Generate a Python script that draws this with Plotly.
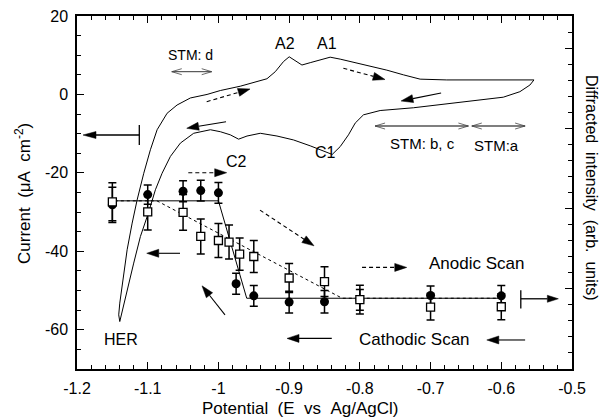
import math
import plotly.graph_objects as go

# ---------------- data ----------------
# Cyclic voltammogram (E in V vs Ag/AgCl, current in uA cm^-2), anodic then cathodic branch
cv_E = [-1.1395, -1.1410, -1.1395, -1.1347, -1.1291, -1.1220, -1.1150, -1.1056, -1.0962, -1.0867,
        -1.0726, -1.0585, -1.0397, -1.0161, -0.9973, -0.9691, -0.9314, -0.9196, -0.9079, -0.8999,
        -0.8914, -0.8819, -0.8702, -0.8561, -0.8420, -0.8278, -0.7996, -0.7619, -0.7384, -0.7148,
        -0.6771, -0.6301, -0.5782, -0.5538,
        -0.5595, -0.5737, -0.5972, -0.6301, -0.6771, -0.7243, -0.7713, -0.7949, -0.8066, -0.8161,
        -0.8278, -0.8391, -0.8702, -0.8938, -0.9172, -0.9408, -0.9596, -0.9715, -0.9832, -0.9973,
        -1.0114, -1.0350, -1.0538, -1.0679, -1.0797, -1.0891, -1.0992, -1.1103, -1.1198, -1.1291,
        -1.1362, -1.1395]
cv_I = [-57.9, -56.2, -53.2, -46.4, -39.6, -32.8, -26.9, -20.1, -14.1, -9.0,
        -4.8, -2.7, -0.9, 0.0, 1.0, 2.1, 4.0, 5.8, 8.4, 9.6,
        8.6, 7.5, 8.1, 8.8, 9.5, 9.0, 7.8, 6.2, 5.0, 3.9,
        3.7, 3.7, 3.7, 3.7,
        2.4, 0.7, -0.7, -1.4, -2.4, -3.4, -4.1, -5.2, -7.3, -10.3,
        -13.3, -15.3, -13.1, -11.6, -10.6, -9.9, -10.6, -11.4, -10.3, -9.5,
        -9.0, -9.9, -12.4, -15.8, -20.1, -24.3, -30.3, -36.2, -43.0, -49.8,
        -54.9, -57.9]

# Diffracted intensity (arb. units): filled circles
circ_E = [-1.15, -1.1, -1.05, -1.025, -1.0, -0.975, -0.95, -0.9, -0.85, -0.8, -0.7, -0.6]
circ_I = [10.23, 10.87, 11.08, 11.12, 10.98, 5.31, 4.56, 4.17, 4.19, 4.31, 4.58, 4.56]
circ_err = [1.1, 0.6, 0.65, 0.65, 0.65, 0.65, 0.65, 0.68, 0.7, 0.65, 0.6, 0.65]

# Diffracted intensity (arb. units): open squares
sq_E = [-1.15, -1.1, -1.05, -1.025, -1.0, -0.985, -0.97, -0.95, -0.9, -0.85, -0.8, -0.7, -0.6]
sq_I = [10.42, 9.79, 9.76, 8.26, 8.01, 7.91, 7.16, 7.01, 5.67, 5.45, 4.32, 3.86, 3.88]
sq_err = [1.18, 1.12, 1.12, 1.09, 1.06, 1.06, 1.0, 1.0, 0.9, 0.93, 0.9, 0.81, 0.81]

# guide lines through the intensity data
fit_solid_E = [-1.155, -1.0, -0.96, -0.6]
fit_solid_I = [10.48, 10.48, 4.41, 4.41]
fit_dash_E = [-1.155, -1.087, -0.825, -0.6]
fit_dash_I = [10.48, 10.48, 4.41, 4.41]

x_tickvals = [-1.2, -1.1, -1.0, -0.9, -0.8, -0.7, -0.6, -0.5]
x_ticktext = ["-1.2", "-1.1", "-1", "-0.9", "-0.8", "-0.7", "-0.6", "-0.5"]
y_tickvals = [20, 0, -20, -40, -60]
y_ticktext = ["20", "0", "-20", "-40", "-60"]

# ---------------- layout constants ----------------
W, H = 605, 420
ML, MR, MT, MB = 77, 33, 16, 51
XR = [-1.2, -0.5]
YR = [-70, 20]
Y2R = [0, 22]
PW, PH = W - ML - MR, H - MT - MB
PX_X = PW / (XR[1] - XR[0])
PX_Y = PH / (YR[1] - YR[0])

FONT = "Liberation Sans, Arial, Helvetica, sans-serif"

fig = go.Figure()

fig.add_trace(go.Scatter(x=cv_E, y=cv_I, mode="lines", line=dict(color="black", width=1),
                         yaxis="y", hoverinfo="skip"))
fig.add_trace(go.Scatter(x=fit_solid_E, y=fit_solid_I, mode="lines",
                         line=dict(color="black", width=1), yaxis="y2"))
fig.add_trace(go.Scatter(x=fit_dash_E, y=fit_dash_I, mode="lines",
                         line=dict(color="black", width=1, dash="3px,3px"), yaxis="y2"))
fig.add_trace(go.Scatter(x=circ_E, y=circ_I, mode="markers", yaxis="y2",
                         marker=dict(symbol="circle", size=9, color="black"),
                         error_y=dict(type="data", array=circ_err, color="black", thickness=1.5, width=4)))
fig.add_trace(go.Scatter(x=sq_E, y=sq_I, mode="markers", yaxis="y2",
                         marker=dict(symbol="square", size=8, color="white",
                                     line=dict(color="black", width=1.3)),
                         error_y=dict(type="data", array=sq_err, color="black", thickness=1.5, width=4)))

shapes = []


def arrow(x0, y0, x1, y1, dashed=False, head_len=12, head_half=4, width=1.1):
    dxp = (x1 - x0) * PX_X
    dyp = (y1 - y0) * PX_Y
    L = math.hypot(dxp, dyp)
    ux, uy = dxp / L, dyp / L
    bx = x1 - ux * head_len / PX_X
    by = y1 - uy * head_len / PX_Y
    nx, ny = -uy, ux
    lx, ly = bx + nx * head_half / PX_X, by + ny * head_half / PX_Y
    rx, ry = bx - nx * head_half / PX_X, by - ny * head_half / PX_Y
    shapes.append(dict(type="line", xref="x", yref="y", x0=x0, y0=y0, x1=bx, y1=by,
                       line=dict(color="black", width=width, dash="4px,3px" if dashed else "solid")))
    shapes.append(dict(type="path", xref="x", yref="y",
                       path=f"M{x1},{y1} L{lx},{ly} L{rx},{ry} Z",
                       fillcolor="black", line=dict(color="black", width=0.5)))


def double_arrow(xa, xb, y, arm=10, half=3, width=1.2):
    shapes.append(dict(type="line", xref="x", yref="y", x0=xa, y0=y, x1=xb, y1=y,
                       line=dict(color="black", width=width)))
    dx, dy = arm / PX_X, half / PX_Y
    shapes.append(dict(type="path", xref="x", yref="y",
                       path=f"M{xa+dx},{y+dy} L{xa},{y} L{xa+dx},{y-dy}",
                       line=dict(color="#444", width=0.8)))
    shapes.append(dict(type="path", xref="x", yref="y",
                       path=f"M{xb-dx},{y+dy} L{xb},{y} L{xb-dx},{y-dy}",
                       line=dict(color="#444", width=0.8)))


# scan-direction arrows on the voltammogram
arrow(-1.0166, -1.85, -0.9553, 1.39, dashed=True)
arrow(-0.9893, -6.95, -1.0448, -8.63)
arrow(-0.8233, 6.67, -0.7644, 3.81, dashed=True)
arrow(-0.6851, 0.37, -0.7417, -1.67)
arrow(-1.0426, -19.95, -0.9883, -19.95, dashed=True)
arrow(-1.0543, -40.5, -1.1014, -40.5)
arrow(-0.9907, -56.2, -1.0232, -48.8)
arrow(-0.9412, -29.5, -0.8648, -38.6, dashed=True)
arrow(-0.7969, -44.1, -0.7337, -44.1, dashed=True)
arrow(-0.8397, -62.2, -0.9030, -62.2)
arrow(-0.5663, -62.6, -0.6205, -62.6)

# axis-indicator arrows
arrow(-1.1119, -10.34, -1.1915, -10.34, head_len=13, head_half=3.5, width=1.3)
shapes.append(dict(type="line", xref="x", yref="y", x0=-1.1119, y0=-7.8, x1=-1.1119, y1=-12.9,
                   line=dict(color="black", width=1.3)))
arrow(-0.5724, -52.1, -0.5193, -52.1, head_len=11, head_half=3.5, width=1.3)
shapes.append(dict(type="line", xref="x", yref="y", x0=-0.5724, y0=-49.9, x1=-0.5724, y1=-54.6,
                   line=dict(color="black", width=1.3)))

# STM ranges
double_arrow(-1.066, -1.0095, 5.8, width=0.8)
double_arrow(-0.7785, -0.6465, -8.05)
double_arrow(-0.6417, -0.5663, -8.05)

annotations = []
labels = [
    ("A2", -0.906, 13.1, 16),
    ("A1", -0.846, 13.1, 16),
    ("C2", -0.974, -17.2, 16),
    ("C1", -0.848, -14.7, 16),
    ("HER", -1.138, -62.6, 16),
    ("STM: d", -1.039, 10.1, 14),
    ("STM: b, c", -0.712, -12.4, 15),
    ("STM:a", -0.6074, -12.9, 15),
    ("Anodic Scan", -0.6356, -43.2, 17),
    ("Cathodic Scan", -0.7233, -62.6, 17),
]
for t, x, y, s in labels:
    annotations.append(dict(text=t, x=x, y=y, xref="x", yref="y", showarrow=False,
                            xanchor="center", yanchor="middle", font=dict(size=s, family=FONT, color="black")))

sp = "\u00a0\u00a0"
annotations.append(dict(text=f"Potential{sp}(E{sp}vs{sp}Ag/AgCl)", x=(300.8 - ML) / PW, y=(MT + PH - 408) / PH,
                        xref="paper", yref="paper", showarrow=False, xanchor="center", yanchor="middle",
                        font=dict(size=17, family=FONT, color="black")))
annotations.append(dict(text=f"Current{sp}(μA{sp}cm<sup>-2</sup>)", x=(23 - ML) / PW, y=(MT + PH - 194) / PH,
                        xref="paper", yref="paper", showarrow=False, xanchor="center", yanchor="middle",
                        textangle=-90, font=dict(size=17, family=FONT, color="black")))
annotations.append(dict(text=f"Diffracted{sp}intensity{sp}(arb.{sp}units)", x=(592 - ML) / PW,
                        y=(MT + PH - 188) / PH, xref="paper", yref="paper", showarrow=False,
                        xanchor="center", yanchor="middle", textangle=90,
                        font=dict(size=16, family=FONT, color="black")))

fig.update_layout(
    width=W, height=H,
    margin=dict(l=ML, r=MR, t=MT, b=MB, autoexpand=False),
    plot_bgcolor="white", paper_bgcolor="white",
    showlegend=False,
    font=dict(family=FONT, size=16, color="black"),
    xaxis=dict(range=XR, tickmode="array", tickvals=x_tickvals, ticktext=x_ticktext,
               ticks="inside", ticklen=7, tickwidth=1, tickcolor="black",
               showline=True, linecolor="black", linewidth=1.5, mirror="ticks",
               showgrid=False, zeroline=False, tickfont=dict(size=16), ticklabelstandoff=4,
               minor=dict(tickmode="linear", tick0=-1.2, dtick=0.02, ticks="inside",
                          ticklen=4, tickcolor="black", showgrid=False)),
    yaxis=dict(range=YR, tickmode="array", tickvals=y_tickvals, ticktext=y_ticktext,
               ticks="inside", ticklen=7, tickwidth=1, tickcolor="black",
               showline=True, linecolor="black", linewidth=1.5, mirror=False,
               showgrid=False, zeroline=False, tickfont=dict(size=16), ticklabelstandoff=4,
               minor=dict(tickmode="linear", tick0=0, dtick=5, ticks="inside",
                          ticklen=4, tickcolor="black", showgrid=False)),
    yaxis2=dict(range=Y2R, overlaying="y", side="right", anchor="x",
                showline=True, linecolor="black", linewidth=1.5,
                tickmode="linear", tick0=0, dtick=5, ticks="inside", ticklen=7,
                tickcolor="black", showticklabels=False, showgrid=False, zeroline=False,
                minor=dict(tickmode="linear", tick0=0, dtick=1, ticks="inside",
                           ticklen=4, tickcolor="black", showgrid=False)),
    shapes=shapes,
    annotations=annotations,
)

fig.write_html("out.html", config={"displayModeBar": False},
               post_script="document.body.style.margin='0';document.body.style.padding='0';")
